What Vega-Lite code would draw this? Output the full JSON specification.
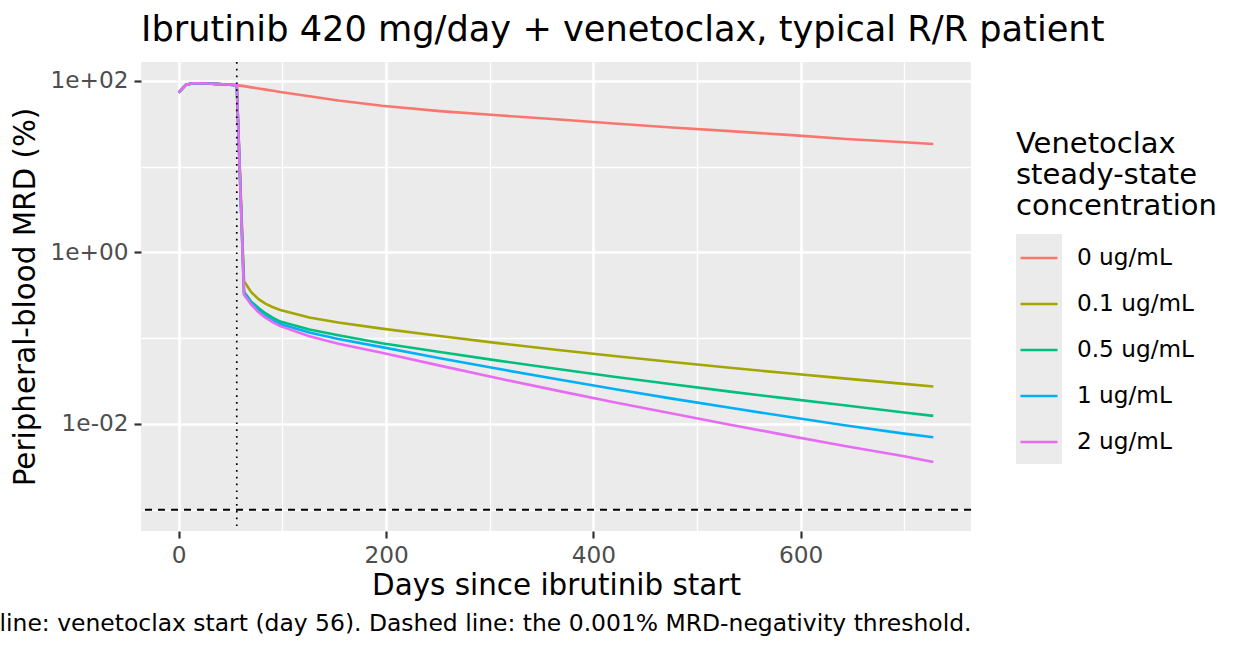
{
  "$schema": "https://vega.github.io/schema/vega-lite/v6.json",
  "width": 830,
  "height": 469,
  "autosize": {"type": "none"},
  "padding": {"left": 141, "top": 62, "right": 277, "bottom": 121},
  "background": "white",
  "config": {
    "font": "DejaVu Sans",
    "view": {"fill": "#ebebeb", "stroke": null},
    "axis": {
      "labelFont": "DejaVu Sans",
      "labelFontSize": 23.2,
      "labelColor": "#4d4d4d",
      "tickColor": "#333333",
      "tickWidth": 2.2,
      "tickSize": 7,
      "domain": false,
      "gridColor": "white",
      "gridWidth": 2.6,
      "titleFont": "DejaVu Sans",
      "titleFontSize": 29.4,
      "titleFontWeight": "normal",
      "titleColor": "black"
    }
  },
  "title": {
    "text": "Ibrutinib 420 mg/day + venetoclax, typical R/R patient",
    "anchor": "start",
    "frame": "group",
    "fontSize": 35.2,
    "fontWeight": "normal",
    "color": "black",
    "font": "DejaVu Sans",
    "baseline": "alphabetic",
    "offset": -15
  },
  "datasets": {
    "mrd": [
      {"day": 0, "conc": "0 ug/mL", "mrd": 73}, {"day": 7, "conc": "0 ug/mL", "mrd": 90}, {"day": 14, "conc": "0 ug/mL", "mrd": 93.5}, {"day": 21, "conc": "0 ug/mL", "mrd": 93.5}, {"day": 28, "conc": "0 ug/mL", "mrd": 93}, {"day": 35, "conc": "0 ug/mL", "mrd": 92}, {"day": 42, "conc": "0 ug/mL", "mrd": 91}, {"day": 49, "conc": "0 ug/mL", "mrd": 90}, {"day": 56, "conc": "0 ug/mL", "mrd": 89},
      {"day": 63, "conc": "0 ug/mL", "mrd": 86.7}, {"day": 70, "conc": "0 ug/mL", "mrd": 83.9}, {"day": 77, "conc": "0 ug/mL", "mrd": 81.5}, {"day": 84, "conc": "0 ug/mL", "mrd": 78.9}, {"day": 91, "conc": "0 ug/mL", "mrd": 76.6}, {"day": 98, "conc": "0 ug/mL", "mrd": 74.1}, {"day": 126, "conc": "0 ug/mL", "mrd": 66.1}, {"day": 154, "conc": "0 ug/mL", "mrd": 59.0}, {"day": 196, "conc": "0 ug/mL", "mrd": 51.1}, {"day": 252, "conc": "0 ug/mL", "mrd": 44.3}, {"day": 308, "conc": "0 ug/mL", "mrd": 39.6}, {"day": 364, "conc": "0 ug/mL", "mrd": 35.6}, {"day": 420, "conc": "0 ug/mL", "mrd": 31.8}, {"day": 476, "conc": "0 ug/mL", "mrd": 28.6}, {"day": 532, "conc": "0 ug/mL", "mrd": 25.9}, {"day": 588, "conc": "0 ug/mL", "mrd": 23.4}, {"day": 644, "conc": "0 ug/mL", "mrd": 21.0}, {"day": 700, "conc": "0 ug/mL", "mrd": 19.2}, {"day": 728, "conc": "0 ug/mL", "mrd": 18.3},

      {"day": 0, "conc": "0.1 ug/mL", "mrd": 73}, {"day": 7, "conc": "0.1 ug/mL", "mrd": 90}, {"day": 14, "conc": "0.1 ug/mL", "mrd": 93.5}, {"day": 21, "conc": "0.1 ug/mL", "mrd": 93.5}, {"day": 28, "conc": "0.1 ug/mL", "mrd": 93}, {"day": 35, "conc": "0.1 ug/mL", "mrd": 92}, {"day": 42, "conc": "0.1 ug/mL", "mrd": 91}, {"day": 49, "conc": "0.1 ug/mL", "mrd": 90}, {"day": 56, "conc": "0.1 ug/mL", "mrd": 89},
      {"day": 63, "conc": "0.1 ug/mL", "mrd": 0.462}, {"day": 70, "conc": "0.1 ug/mL", "mrd": 0.343}, {"day": 77, "conc": "0.1 ug/mL", "mrd": 0.285}, {"day": 84, "conc": "0.1 ug/mL", "mrd": 0.251}, {"day": 91, "conc": "0.1 ug/mL", "mrd": 0.229}, {"day": 98, "conc": "0.1 ug/mL", "mrd": 0.213}, {"day": 126, "conc": "0.1 ug/mL", "mrd": 0.174}, {"day": 154, "conc": "0.1 ug/mL", "mrd": 0.152}, {"day": 196, "conc": "0.1 ug/mL", "mrd": 0.129}, {"day": 252, "conc": "0.1 ug/mL", "mrd": 0.106}, {"day": 308, "conc": "0.1 ug/mL", "mrd": 0.0875}, {"day": 364, "conc": "0.1 ug/mL", "mrd": 0.0733}, {"day": 420, "conc": "0.1 ug/mL", "mrd": 0.0619}, {"day": 476, "conc": "0.1 ug/mL", "mrd": 0.0527}, {"day": 532, "conc": "0.1 ug/mL", "mrd": 0.0451}, {"day": 588, "conc": "0.1 ug/mL", "mrd": 0.0389}, {"day": 644, "conc": "0.1 ug/mL", "mrd": 0.0337}, {"day": 700, "conc": "0.1 ug/mL", "mrd": 0.0293}, {"day": 728, "conc": "0.1 ug/mL", "mrd": 0.0273},

      {"day": 0, "conc": "0.5 ug/mL", "mrd": 73}, {"day": 7, "conc": "0.5 ug/mL", "mrd": 90}, {"day": 14, "conc": "0.5 ug/mL", "mrd": 93.5}, {"day": 21, "conc": "0.5 ug/mL", "mrd": 93.5}, {"day": 28, "conc": "0.5 ug/mL", "mrd": 93}, {"day": 35, "conc": "0.5 ug/mL", "mrd": 92}, {"day": 42, "conc": "0.5 ug/mL", "mrd": 91}, {"day": 49, "conc": "0.5 ug/mL", "mrd": 90}, {"day": 56, "conc": "0.5 ug/mL", "mrd": 89},
      {"day": 63, "conc": "0.5 ug/mL", "mrd": 0.347}, {"day": 70, "conc": "0.5 ug/mL", "mrd": 0.266}, {"day": 77, "conc": "0.5 ug/mL", "mrd": 0.224}, {"day": 84, "conc": "0.5 ug/mL", "mrd": 0.194}, {"day": 91, "conc": "0.5 ug/mL", "mrd": 0.172}, {"day": 98, "conc": "0.5 ug/mL", "mrd": 0.156}, {"day": 126, "conc": "0.5 ug/mL", "mrd": 0.126}, {"day": 154, "conc": "0.5 ug/mL", "mrd": 0.108}, {"day": 196, "conc": "0.5 ug/mL", "mrd": 0.0871}, {"day": 252, "conc": "0.5 ug/mL", "mrd": 0.069}, {"day": 308, "conc": "0.5 ug/mL", "mrd": 0.0547}, {"day": 364, "conc": "0.5 ug/mL", "mrd": 0.0439}, {"day": 420, "conc": "0.5 ug/mL", "mrd": 0.0355}, {"day": 476, "conc": "0.5 ug/mL", "mrd": 0.029}, {"day": 532, "conc": "0.5 ug/mL", "mrd": 0.0238}, {"day": 588, "conc": "0.5 ug/mL", "mrd": 0.0197}, {"day": 644, "conc": "0.5 ug/mL", "mrd": 0.0164}, {"day": 700, "conc": "0.5 ug/mL", "mrd": 0.0136}, {"day": 728, "conc": "0.5 ug/mL", "mrd": 0.0124},

      {"day": 0, "conc": "1 ug/mL", "mrd": 73}, {"day": 7, "conc": "1 ug/mL", "mrd": 90}, {"day": 14, "conc": "1 ug/mL", "mrd": 93.5}, {"day": 21, "conc": "1 ug/mL", "mrd": 93.5}, {"day": 28, "conc": "1 ug/mL", "mrd": 93}, {"day": 35, "conc": "1 ug/mL", "mrd": 92}, {"day": 42, "conc": "1 ug/mL", "mrd": 91}, {"day": 49, "conc": "1 ug/mL", "mrd": 90}, {"day": 56, "conc": "1 ug/mL", "mrd": 89},
      {"day": 63, "conc": "1 ug/mL", "mrd": 0.331}, {"day": 70, "conc": "1 ug/mL", "mrd": 0.257}, {"day": 77, "conc": "1 ug/mL", "mrd": 0.209}, {"day": 84, "conc": "1 ug/mL", "mrd": 0.18}, {"day": 91, "conc": "1 ug/mL", "mrd": 0.16}, {"day": 98, "conc": "1 ug/mL", "mrd": 0.146}, {"day": 126, "conc": "1 ug/mL", "mrd": 0.116}, {"day": 154, "conc": "1 ug/mL", "mrd": 0.0977}, {"day": 196, "conc": "1 ug/mL", "mrd": 0.0785}, {"day": 252, "conc": "1 ug/mL", "mrd": 0.0583}, {"day": 308, "conc": "1 ug/mL", "mrd": 0.0439}, {"day": 364, "conc": "1 ug/mL", "mrd": 0.0333}, {"day": 420, "conc": "1 ug/mL", "mrd": 0.0255}, {"day": 476, "conc": "1 ug/mL", "mrd": 0.0197}, {"day": 532, "conc": "1 ug/mL", "mrd": 0.0154}, {"day": 588, "conc": "1 ug/mL", "mrd": 0.0121}, {"day": 644, "conc": "1 ug/mL", "mrd": 0.0096}, {"day": 700, "conc": "1 ug/mL", "mrd": 0.0077}, {"day": 728, "conc": "1 ug/mL", "mrd": 0.007},

      {"day": 0, "conc": "2 ug/mL", "mrd": 73}, {"day": 7, "conc": "2 ug/mL", "mrd": 90}, {"day": 14, "conc": "2 ug/mL", "mrd": 93.5}, {"day": 21, "conc": "2 ug/mL", "mrd": 93.5}, {"day": 28, "conc": "2 ug/mL", "mrd": 93}, {"day": 35, "conc": "2 ug/mL", "mrd": 92}, {"day": 42, "conc": "2 ug/mL", "mrd": 91}, {"day": 49, "conc": "2 ug/mL", "mrd": 90}, {"day": 56, "conc": "2 ug/mL", "mrd": 89},
      {"day": 63, "conc": "2 ug/mL", "mrd": 0.32}, {"day": 70, "conc": "2 ug/mL", "mrd": 0.245}, {"day": 77, "conc": "2 ug/mL", "mrd": 0.2}, {"day": 84, "conc": "2 ug/mL", "mrd": 0.172}, {"day": 91, "conc": "2 ug/mL", "mrd": 0.153}, {"day": 98, "conc": "2 ug/mL", "mrd": 0.138}, {"day": 126, "conc": "2 ug/mL", "mrd": 0.105}, {"day": 154, "conc": "2 ug/mL", "mrd": 0.0861}, {"day": 196, "conc": "2 ug/mL", "mrd": 0.0676}, {"day": 252, "conc": "2 ug/mL", "mrd": 0.0478}, {"day": 308, "conc": "2 ug/mL", "mrd": 0.034}, {"day": 364, "conc": "2 ug/mL", "mrd": 0.0246}, {"day": 420, "conc": "2 ug/mL", "mrd": 0.0179}, {"day": 476, "conc": "2 ug/mL", "mrd": 0.0132}, {"day": 532, "conc": "2 ug/mL", "mrd": 0.0098}, {"day": 588, "conc": "2 ug/mL", "mrd": 0.0073}, {"day": 644, "conc": "2 ug/mL", "mrd": 0.0055}, {"day": 700, "conc": "2 ug/mL", "mrd": 0.0042}, {"day": 728, "conc": "2 ug/mL", "mrd": 0.0036}
    ],
    "vstart": [{"day": 56}],
    "threshold": [{"mrd": 0.001}],
    "keybg": [{"key": "bg", "day": 0, "mrd": 1}]
  },
  "layer": [
    {
      "data": {"name": "mrd"},
      "mark": {"type": "line", "strokeWidth": 2.6},
      "encoding": {
        "x": {
          "field": "day", "type": "quantitative",
          "scale": {"domain": [-36.4, 764.4], "nice": false, "zero": false},
          "axis": {"orient": "bottom", "values": [0, 200, 400, 600], "grid": true, "labelPadding": 6, "labelFlush": false, "title": "Days since ibrutinib start", "titlePadding": 5}
        },
        "y": {
          "field": "mrd", "type": "quantitative",
          "scale": {"type": "log", "domain": [0.0005642, 165.7], "nice": false},
          "axis": {"orient": "left", "values": [100, 1, 0.01], "grid": true, "labelPadding": 6, "labelFlush": false, "labelOverlap": false,
                   "labelExpr": "datum.value >= 50 ? '1e+02' : (datum.value >= 0.5 ? '1e+00' : '1e-02')",
                   "title": "Peripheral-blood MRD (%)", "titlePadding": 10}
        },
        "color": {
          "field": "conc", "type": "nominal",
          "scale": {"domain": ["0 ug/mL", "0.1 ug/mL", "0.5 ug/mL", "1 ug/mL", "2 ug/mL"], "range": ["#F8766D", "#A3A500", "#00BF7D", "#00B0F6", "#E76BF3"]},
          "legend": {
            "title": ["Venetoclax", "steady-state", "concentration"],
            "orient": "none", "legendX": 875, "legendY": 68,
            "symbolType": "stroke", "symbolSize": 1369, "symbolStrokeWidth": 2.6, "symbolOffset": 3,
            "titleFont": "DejaVu Sans", "titleFontSize": 29, "titleFontWeight": "normal", "titleColor": "black", "titleLineHeight": 31, "titleLimit": 400,
            "labelFont": "DejaVu Sans", "labelFontSize": 23.2, "labelColor": "black", "labelLimit": 300,
            "rowPadding": 14, "titlePadding": 17, "labelOffset": 18, "zindex": 2
          }
        }
      }
    },
    {
      "data": {"name": "vstart"},
      "mark": {"type": "rule", "color": "black", "strokeWidth": 1.7, "strokeDash": [1.7, 5.1]},
      "encoding": {
        "x": {
          "field": "day", "type": "quantitative",
          "axis": {"orient": "top", "values": [100, 300, 500, 700], "grid": true, "gridWidth": 1.3, "labels": false, "ticks": false, "domain": false, "title": null}
        }
      }
    },
    {
      "data": {"name": "threshold"},
      "mark": {"type": "rule", "color": "black", "strokeWidth": 2, "strokeDash": [7, 6]},
      "encoding": {
        "y": {
          "field": "mrd", "type": "quantitative",
          "axis": {"orient": "right", "values": [10, 0.1, 0.001], "grid": true, "gridWidth": 1.3, "labels": false, "ticks": false, "domain": false, "title": null}
        }
      }
    },
    {
      "data": {"name": "keybg"},
      "mark": {"type": "point", "filled": true, "color": "#ebebeb", "opacity": 0},
      "encoding": {
        "x": {
          "field": "day", "type": "quantitative",
          "axis": {"orient": "bottom", "labels": false, "ticks": false, "domain": false, "grid": false,
                   "title": "Dotted line: venetoclax start (day 56). Dashed line: the 0.001% MRD-negativity threshold.",
                   "titleAnchor": "end", "titleAlign": "right", "titleFontSize": 23.45, "titleBaseline": "alphabetic", "titlePadding": 99}
        },
        "y": {"field": "mrd", "type": "quantitative", "axis": null},
        "shape": {
          "field": "key", "type": "nominal",
          "scale": {"range": ["M-1,-5H1V5H-1Z"]},
          "legend": {"title": null, "orient": "none", "legendX": 875, "legendY": 264, "symbolSize": 2116, "symbolStrokeWidth": 0, "symbolFillColor": "#ebebeb", "symbolOpacity": 1, "labelExpr": "''", "zindex": 1}
        }
      }
    }
  ],
  "resolve": {"axis": {"x": "independent", "y": "independent"}}
}
